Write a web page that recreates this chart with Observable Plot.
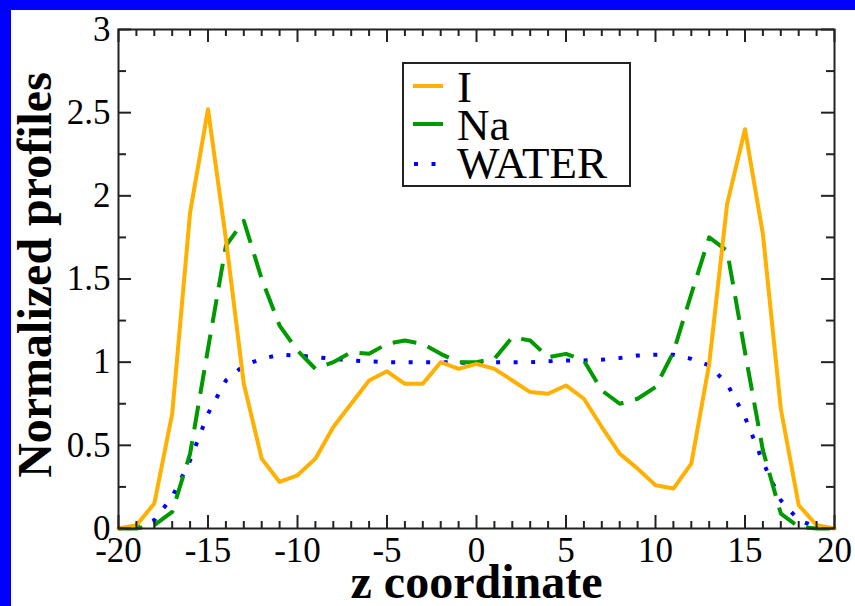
<!DOCTYPE html>
<html>
<head>
<meta charset="utf-8">
<script src="https://cdn.jsdelivr.net/npm/d3@7"></script>
<script src="https://cdn.jsdelivr.net/npm/@observablehq/plot@0.6"></script>
<style>
html, body { margin: 0; padding: 0; background: #ffffff; overflow: hidden; }
#wrap { position: relative; width: 855px; height: 606px; overflow: hidden; background: #ffffff; }
#wrap .strip { position: absolute; background: #0000ff; z-index: 0; }
#wrap svg { display: block; position: relative; z-index: 1; background: transparent !important; font-family: "Liberation Serif", "DejaVu Serif", "Times New Roman", serif !important; }
#wrap svg text { font-family: "Liberation Serif", "DejaVu Serif", "Times New Roman", serif !important; }
</style>
</head>
<body>
<div id="wrap">
  <div class="strip" style="left:0;top:0;width:11px;height:606px"></div>
  <div class="strip" style="left:0;top:0;width:855px;height:10px"></div>
</div>
<script>
// ---- data ----
const z = [-20,-19,-18,-17,-16,-15,-14,-13,-12,-11,-10,-9,-8,-7,-6,-5,-4,-3,-2,-1,0,1,2,3,4,5,6,7,8,9,10,11,12,13,14,15,16,17,18,19,20];
const iodide = [0.00,0.02,0.15,0.69,1.90,2.52,1.74,0.87,0.42,0.28,0.32,0.42,0.61,0.75,0.89,0.945,0.87,0.87,1.00,0.96,0.99,0.96,0.89,0.82,0.81,0.86,0.78,0.61,0.45,0.36,0.26,0.24,0.39,0.99,1.95,2.40,1.77,0.72,0.14,0.02,0.00];
const sodium = [0.00,0.00,0.02,0.10,0.45,1.08,1.70,1.85,1.50,1.22,1.07,0.96,1.00,1.06,1.05,1.11,1.13,1.11,1.05,1.00,1.00,1.02,1.15,1.13,1.03,1.05,1.01,0.83,0.75,0.78,0.85,1.06,1.41,1.75,1.67,1.06,0.47,0.09,0.01,0.00,0.00];
const water = [0.00,0.01,0.05,0.19,0.41,0.69,0.89,0.98,1.02,1.045,1.04,1.03,1.02,1.01,1.005,1.00,1.00,1.00,1.00,0.997,0.997,1.00,1.00,1.00,1.005,1.01,1.01,1.015,1.025,1.04,1.045,1.045,1.02,0.98,0.87,0.67,0.40,0.17,0.05,0.01,0.00];
const seriesNames = ["I", "Na", "WATER"];
const xMajor = [-20,-15,-10,-5,0,5,10,15,20];
const xMinor = d3.range(-20, 21, 1).filter(v => v % 5 !== 0);
const yMajor = [0,0.5,1,1.5,2,2.5,3];
const yMinor = [0.25,0.75,1.25,1.75,2.25,2.75];
const xTitle = "z coordinate";
const yTitle = "Normalized profiles";

// ---- layout ----
const W = 855, H = 606, mL = 118, mR = 21, mT = 29, mB = 78;
const ph = H - mT - mB, pw = W - mL - mR;
const axisColor = "#222";
const colors = {I: "#ffb000", Na: "#009a00", WATER: "#0000ff"};
const serif = "Liberation Serif, DejaVu Serif, Times New Roman, serif";

const rows = (vals) => z.map((zz, i) => ({z: zz, v: vals[i]}));

const plot = Plot.plot({
  width: W, height: H,
  marginLeft: mL, marginRight: mR, marginTop: mT, marginBottom: mB,
  style: {background: "transparent", fontFamily: serif, color: axisColor, overflow: "visible"},
  x: {domain: [-20, 20]},
  y: {domain: [0, 3]},
  marks: [
    Plot.line(rows(water), {x: "z", y: "v", stroke: colors.WATER, strokeWidth: 4, strokeDasharray: "4,13.5", strokeLinecap: "butt"}),
    Plot.line(rows(sodium), {x: "z", y: "v", stroke: colors.Na, strokeWidth: 4, strokeDasharray: "24,12", strokeLinecap: "butt"}),
    Plot.line(rows(iodide), {x: "z", y: "v", stroke: colors.I, strokeWidth: 4}),
    // inward ticks, bottom/top
    Plot.tickX(xMajor, {x: d => d, stroke: axisColor, strokeWidth: 2, insetTop: ph - 13}),
    Plot.tickX(xMajor, {x: d => d, stroke: axisColor, strokeWidth: 2, insetBottom: ph - 13}),
    Plot.tickX(xMinor, {x: d => d, stroke: axisColor, strokeWidth: 2, insetTop: ph - 7}),
    Plot.tickX(xMinor, {x: d => d, stroke: axisColor, strokeWidth: 2, insetBottom: ph - 7}),
    // inward ticks, left/right
    Plot.tickY(yMajor, {y: d => d, stroke: axisColor, strokeWidth: 2, insetRight: pw - 13}),
    Plot.tickY(yMajor, {y: d => d, stroke: axisColor, strokeWidth: 2, insetLeft: pw - 13}),
    Plot.tickY(yMinor, {y: d => d, stroke: axisColor, strokeWidth: 2, insetRight: pw - 8}),
    Plot.tickY(yMinor, {y: d => d, stroke: axisColor, strokeWidth: 2, insetLeft: pw - 8}),
    Plot.frame({stroke: axisColor, strokeWidth: 2}),
    Plot.axisX(xMajor, {tickSize: 0, tickPadding: 9, fontSize: 35, fill: "#000", tickFormat: d => String(d), label: null}),
    Plot.axisY(yMajor, {tickSize: 0, tickPadding: 8, fontSize: 35, fill: "#000", tickFormat: d => String(d), label: null}),
    Plot.text([xTitle], {frameAnchor: "bottom", textAnchor: "middle", dy: 69, text: d => d, fontSize: 48, fontWeight: "bold", fill: "#000"}),
    Plot.text([yTitle], {frameAnchor: "left", textAnchor: "middle", rotate: -90, dx: -83, dy: -4, text: d => d, fontSize: 48, fontWeight: "bold", fill: "#000"})
  ]
});
document.getElementById("wrap").appendChild(plot);

// ---- legend (inside the plot area, like the reference) ----
const lg = d3.create("svg").attr("width", 230).attr("height", 126)
  .style("position", "absolute").style("left", "402px").style("top", "62px").style("z-index", 2);
lg.append("rect").attr("x", 1).attr("y", 1).attr("width", 227).attr("height", 123)
  .attr("fill", "#fff").attr("stroke", axisColor).attr("stroke-width", 2);
const items = [
  {name: seriesNames[0], color: colors.I, dash: null, ly: 24, ty: 40},
  {name: seriesNames[1], color: colors.Na, dash: null, ly: 62, ty: 78},
  {name: seriesNames[2], color: colors.WATER, dash: "4,13.5", ly: 102, ty: 116}
];
for (const it of items) {
  const l = lg.append("line").attr("x1", 11).attr("x2", 41).attr("y1", it.ly).attr("y2", it.ly)
    .attr("stroke", it.color).attr("stroke-width", 4);
  if (it.dash) l.attr("stroke-dasharray", it.dash).attr("x1", 12).attr("x2", 38);
  lg.append("text").attr("x", 55).attr("y", it.ty).attr("font-size", 45)
    .attr("fill", "#000").text(it.name);
}
document.getElementById("wrap").appendChild(lg.node());
</script>
</body>
</html>
